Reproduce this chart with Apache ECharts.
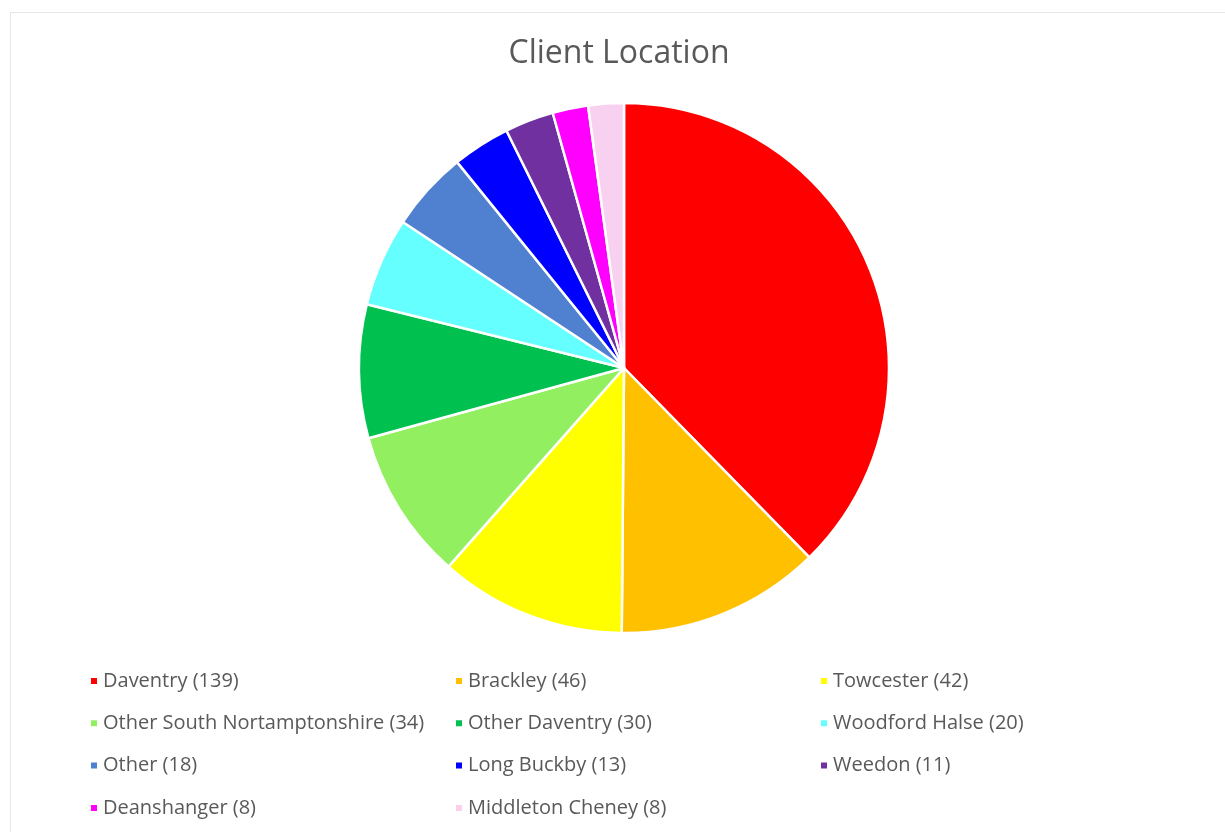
<!DOCTYPE html>
<html><head><meta charset="utf-8">
<script src="https://cdn.jsdelivr.net/npm/echarts@6/dist/echarts.min.js"></script>
<style>html,body{margin:0;padding:0;background:#fff}#c{width:1225px;height:832px}</style>
</head><body><div id="c"></div>
<script>
const categories = ["Daventry (139)","Brackley (46)","Towcester (42)","Other South Nortamptonshire (34)","Other Daventry (30)","Woodford Halse (20)","Other (18)","Long Buckby (13)","Weedon (11)","Deanshanger (8)","Middleton Cheney (8)"];
const values = [139,46,42,34,30,20,18,13,11,8,8];
const colors = ["#ff0000","#ffc000","#ffff00","#92f060","#00c050","#66ffff","#4f81d0","#0000ff","#7030a0","#ff00ff","#f8d0f0"];
const legendCols = [
  ["Daventry (139)","Other South Nortamptonshire (34)","Other (18)","Deanshanger (8)"],
  ["Brackley (46)","Other Daventry (30)","Long Buckby (13)","Middleton Cheney (8)"],
  ["Towcester (42)","Woodford Halse (20)","Weedon (11)"]
];
const colX = [84, 449, 814];
const chart = echarts.init(document.getElementById('c'));
const font = "Open Sans, sans-serif";
chart.setOption({
  animation:false,
  title:{text:"Client Location",left:614,top:33,textAlign:'center',textStyle:{fontFamily:font,fontSize:32,fontWeight:'normal',color:'#595959'}},
  graphic:[{type:'rect',shape:{x:10.5,y:12.5,width:1230,height:830},style:{fill:'none',stroke:'#e6e6e6',lineWidth:1}}],
  legend: legendCols.map((col,i)=>({
    data:col, orient:'vertical', left:colX[i], top:666, itemGap:22.3,
    icon:'rect', itemWidth:8, itemHeight:8,
    textStyle:{fontFamily:font,fontSize:20,color:'#595959'}, selectedMode:false
  })),
  series:[{
    type:'pie', center:[624,368], radius:265, startAngle:90, clockwise:true,
    label:{show:false}, labelLine:{show:false},
    itemStyle:{borderColor:'#fff',borderWidth:2.5},
    data:categories.map((n,i)=>({name:n,value:values[i],itemStyle:{color:colors[i]}}))
  }]
});
</script></body></html>
